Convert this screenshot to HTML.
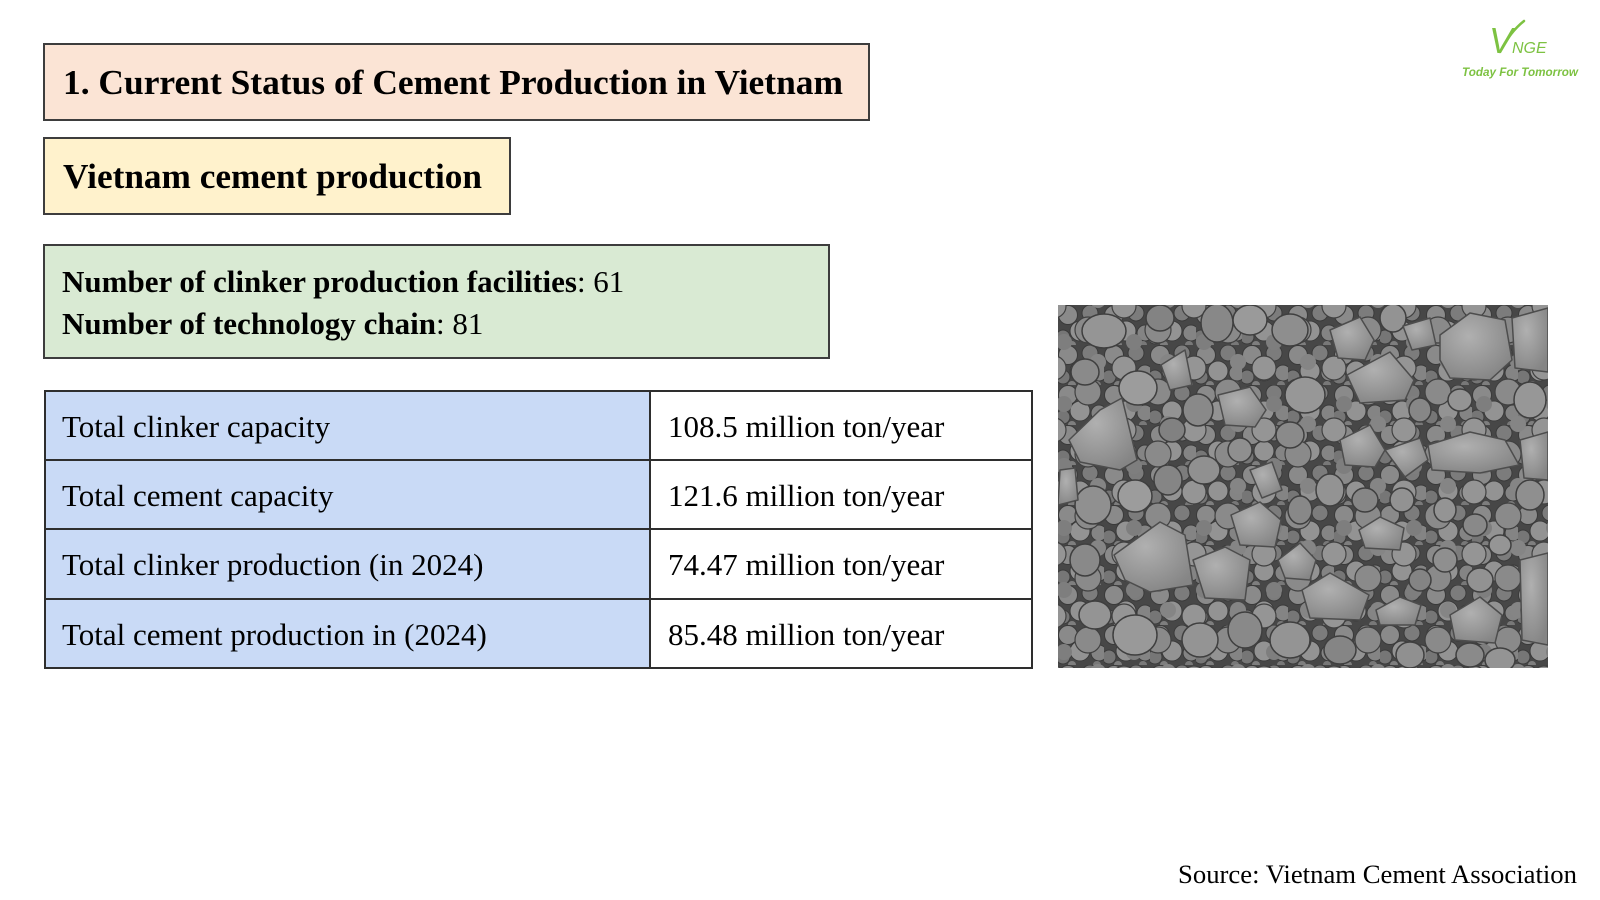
<!DOCTYPE html>
<html>
<head>
<meta charset="utf-8">
<style>
  html,body{margin:0;padding:0;background:#fff;}
  body{width:1600px;height:900px;overflow:hidden;}
  svg{display:block;}
  .serif{font-family:"Liberation Serif","Times New Roman",serif;}
  .sans{font-family:"Liberation Sans",Arial,sans-serif;}
</style>
</head>
<body>
<svg width="1600" height="900" viewBox="0 0 1600 900" xmlns="http://www.w3.org/2000/svg">
  <defs>
    <clipPath id="photoClip"><rect x="1058" y="305" width="490" height="363"/></clipPath>
    <pattern id="peb" x="1058" y="305" width="46" height="40" patternUnits="userSpaceOnUse">
      <rect width="46" height="40" fill="#474747"/>
      <circle cx="10" cy="10" r="9.5" fill="#8a8a8a" stroke="#3a3a3a" stroke-width="1"/>
      <circle cx="32" cy="8" r="8" fill="#7c7c7c" stroke="#3a3a3a" stroke-width="1"/>
      <circle cx="22" cy="26" r="10" fill="#939393" stroke="#3a3a3a" stroke-width="1"/>
      <circle cx="5" cy="32" r="7" fill="#767676" stroke="#3a3a3a" stroke-width="1"/>
      <circle cx="41" cy="28" r="8" fill="#848484" stroke="#3a3a3a" stroke-width="1"/>
      <circle cx="39" cy="40" r="4" fill="#787878"/>
      <circle cx="14" cy="40" r="4" fill="#7e7e7e"/>
    </pattern>
    <pattern id="peb2" x="1040" y="290" width="70" height="62" patternUnits="userSpaceOnUse">
      <circle cx="14" cy="16" r="12" fill="#959595" stroke="#404040" stroke-width="1.2"/>
      <circle cx="48" cy="40" r="13" fill="#8a8a8a" stroke="#404040" stroke-width="1.2"/>
      <circle cx="24" cy="52" r="8" fill="#7e7e7e"/>
      <circle cx="58" cy="10" r="8" fill="#858585"/>
    </pattern>
    <radialGradient id="stone" cx="40%" cy="35%" r="70%">
      <stop offset="0" stop-color="#b0b0b0"/>
      <stop offset="1" stop-color="#858585"/>
    </radialGradient>
  </defs>

  <!-- Title box -->
  <rect x="44" y="44" width="825" height="76" fill="#FBE4D5" stroke="#3d3d3d" stroke-width="2"/>
  <text class="serif" x="63" y="94" font-size="35.4" font-weight="bold" fill="#000" textLength="780" lengthAdjust="spacingAndGlyphs">1. Current Status of Cement Production in Vietnam</text>

  <!-- Subtitle box -->
  <rect x="44" y="138" width="466" height="76" fill="#FFF2CC" stroke="#3d3d3d" stroke-width="2"/>
  <text class="serif" x="63" y="188" font-size="35" font-weight="bold" fill="#000" textLength="419" lengthAdjust="spacingAndGlyphs">Vietnam cement production</text>

  <!-- Green box -->
  <rect x="44" y="245" width="785" height="113" fill="#D9EAD3" stroke="#3d3d3d" stroke-width="2"/>
  <text class="serif" x="62" y="292" font-size="31" fill="#000"><tspan font-weight="bold">Number of clinker production facilities</tspan>: 61</text>
  <text class="serif" x="62" y="334" font-size="31" fill="#000"><tspan font-weight="bold">Number of technology chain</tspan>: 81</text>

  <!-- Table -->
  <rect x="45" y="391" width="605" height="277" fill="#C9DAF6"/>
  <rect x="650" y="391" width="382" height="277" fill="#FFFFFF"/>
  <g stroke="#2e2e2e" stroke-width="2" fill="none">
    <rect x="45" y="391" width="987" height="277"/>
    <line x1="650" y1="391" x2="650" y2="668"/>
    <line x1="45" y1="460" x2="1032" y2="460"/>
    <line x1="45" y1="529" x2="1032" y2="529"/>
    <line x1="45" y1="599" x2="1032" y2="599"/>
  </g>
  <g class="serif" font-size="31" fill="#000">
    <text x="62" y="437">Total clinker capacity</text>
    <text x="62" y="506">Total cement capacity</text>
    <text x="62" y="575">Total clinker production (in 2024)</text>
    <text x="62" y="645">Total cement production in (2024)</text>
    <text x="668" y="437">108.5 million ton/year</text>
    <text x="668" y="506">121.6 million ton/year</text>
    <text x="668" y="575">74.47 million ton/year</text>
    <text x="668" y="645">85.48 million ton/year</text>
  </g>

  <!-- Photo of clinker -->
  <g clip-path="url(#photoClip)">
    <rect x="1058" y="305" width="490" height="363" fill="url(#peb)"/>
    <rect x="1058" y="305" width="490" height="363" fill="url(#peb2)"/>
    <!-- medium rounded pebbles -->
    <g stroke="#3f3f3f" stroke-width="1.5">
      <ellipse cx="1104" cy="331" rx="22" ry="17" fill="#959595"/>
      <ellipse cx="1217" cy="323" rx="16" ry="19" fill="#888"/>
      <ellipse cx="1250" cy="320" rx="17" ry="15" fill="#9a9a9a"/>
      <ellipse cx="1393" cy="318" rx="13" ry="14" fill="#939393"/>
      <ellipse cx="1290" cy="330" rx="18" ry="16" fill="#8e8e8e"/>
      <ellipse cx="1160" cy="318" rx="14" ry="13" fill="#838383"/>
      <ellipse cx="1138" cy="388" rx="19" ry="17" fill="#9c9c9c"/>
      <ellipse cx="1085" cy="372" rx="14" ry="13" fill="#8a8a8a"/>
      <ellipse cx="1305" cy="395" rx="20" ry="18" fill="#979797"/>
      <ellipse cx="1198" cy="410" rx="15" ry="16" fill="#898989"/>
      <ellipse cx="1172" cy="430" rx="13" ry="12" fill="#818181"/>
      <ellipse cx="1290" cy="435" rx="14" ry="13" fill="#8a8a8a"/>
      <ellipse cx="1093" cy="505" rx="18" ry="19" fill="#909090"/>
      <ellipse cx="1135" cy="496" rx="17" ry="16" fill="#9c9c9c"/>
      <ellipse cx="1168" cy="480" rx="14" ry="15" fill="#858585"/>
      <ellipse cx="1204" cy="470" rx="16" ry="14" fill="#909090"/>
      <ellipse cx="1330" cy="490" rx="14" ry="16" fill="#939393"/>
      <ellipse cx="1365" cy="500" rx="13" ry="12" fill="#868686"/>
      <ellipse cx="1402" cy="500" rx="12" ry="12" fill="#929292"/>
      <ellipse cx="1445" cy="510" rx="11" ry="12" fill="#949494"/>
      <ellipse cx="1475" cy="525" rx="12" ry="11" fill="#898989"/>
      <ellipse cx="1500" cy="545" rx="11" ry="10" fill="#959595"/>
      <ellipse cx="1445" cy="560" rx="12" ry="12" fill="#8f8f8f"/>
      <ellipse cx="1420" cy="580" rx="11" ry="11" fill="#848484"/>
      <ellipse cx="1480" cy="580" rx="13" ry="12" fill="#929292"/>
      <ellipse cx="1085" cy="560" rx="15" ry="16" fill="#898989"/>
      <ellipse cx="1095" cy="615" rx="16" ry="14" fill="#949494"/>
      <ellipse cx="1135" cy="635" rx="22" ry="20" fill="#999"/>
      <ellipse cx="1200" cy="640" rx="18" ry="17" fill="#949494"/>
      <ellipse cx="1245" cy="630" rx="17" ry="18" fill="#898989"/>
      <ellipse cx="1290" cy="640" rx="20" ry="18" fill="#949494"/>
      <ellipse cx="1340" cy="650" rx="16" ry="14" fill="#858585"/>
      <ellipse cx="1410" cy="655" rx="14" ry="13" fill="#909090"/>
      <ellipse cx="1500" cy="660" rx="15" ry="12" fill="#949494"/>
      <ellipse cx="1300" cy="510" rx="12" ry="14" fill="#888"/>
      <ellipse cx="1240" cy="450" rx="12" ry="12" fill="#8f8f8f"/>
      <ellipse cx="1530" cy="400" rx="16" ry="18" fill="#979797"/>
      <ellipse cx="1530" cy="495" rx="14" ry="15" fill="#8f8f8f"/>
      <ellipse cx="1420" cy="410" rx="11" ry="12" fill="#878787"/>
      <ellipse cx="1460" cy="400" rx="12" ry="11" fill="#949494"/>
      <ellipse cx="1535" cy="610" rx="14" ry="14" fill="#8e8e8e"/>
      <ellipse cx="1470" cy="655" rx="14" ry="12" fill="#8a8a8a"/>
    </g>
    <!-- large angular stones -->
    <g fill="url(#stone)" stroke="#4d4d4d" stroke-width="1.5" stroke-linejoin="round">
      <polygon points="1069,440 1100,410 1122,398 1137,460 1120,470 1080,462"/>
      <polygon points="1114,555 1160,522 1185,535 1193,585 1150,592 1125,580"/>
      <polygon points="1193,560 1225,547 1250,560 1245,600 1205,598"/>
      <polygon points="1302,590 1330,573 1369,595 1360,620 1310,618"/>
      <polygon points="1440,335 1470,313 1505,320 1512,360 1490,380 1450,378 1440,360"/>
      <polygon points="1347,375 1390,352 1414,380 1405,400 1360,403"/>
      <polygon points="1428,445 1470,432 1505,440 1519,465 1480,473 1432,470"/>
      <polygon points="1218,395 1250,387 1266,410 1255,427 1225,425"/>
      <polygon points="1330,330 1360,317 1374,340 1365,360 1338,358"/>
      <polygon points="1385,450 1420,438 1428,460 1405,477"/>
      <polygon points="1520,560 1548,553 1548,645 1522,640"/>
      <polygon points="1450,615 1480,597 1502,615 1495,643 1455,640"/>
      <polygon points="1376,610 1400,597 1421,605 1415,625 1380,625"/>
      <polygon points="1359,530 1380,517 1404,528 1400,550 1365,548"/>
      <polygon points="1231,515 1260,502 1281,520 1275,547 1240,545"/>
      <polygon points="1278,560 1300,543 1316,560 1310,580 1285,578"/>
      <polygon points="1340,440 1370,425 1385,450 1375,467 1345,465"/>
      <polygon points="1161,365 1185,350 1192,385 1170,390"/>
      <polygon points="1250,470 1272,462 1282,490 1262,498"/>
      <polygon points="1512,318 1548,308 1548,372 1515,368"/>
      <polygon points="1403,326 1430,318 1436,345 1412,350"/>
      <polygon points="1060,470 1075,468 1078,500 1058,505"/>
      <polygon points="1520,440 1548,432 1548,480 1524,478"/>
    </g>
  </g>

  <!-- Source -->
  <text class="serif" x="1178" y="883" font-size="26.5" fill="#000" textLength="399" lengthAdjust="spacingAndGlyphs">Source: Vietnam Cement Association</text>

  <!-- Logo -->
  <path d="M1500,52 Q1510,32 1524,21" stroke="#7DC242" stroke-width="2.5" fill="none" stroke-linecap="round"/>
  <text class="sans" x="1489" y="53" font-size="36" font-style="italic" fill="#7DC242">V</text>
  <text class="sans" x="1512" y="53" font-size="16" font-style="italic" fill="#7DC242">NGE</text>
  <text class="sans" x="1462" y="76" font-size="11.5" font-weight="bold" font-style="italic" fill="#7DC242" textLength="116" lengthAdjust="spacingAndGlyphs">Today For Tomorrow</text>
</svg>
</body>
</html>
